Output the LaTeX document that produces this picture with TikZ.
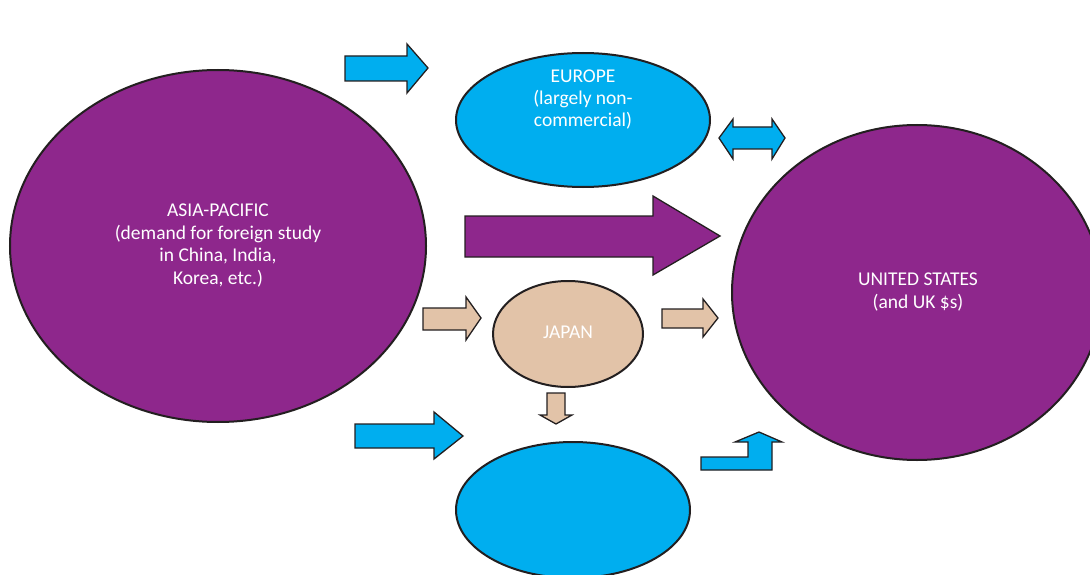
\documentclass[tikz,border=0pt]{standalone}
\usepackage{fontspec}
\setmainfont{Carlito}
\usetikzlibrary{shapes.geometric}
\definecolor{cyanb}{HTML}{00AEEF}
\definecolor{purp}{HTML}{8E278C}
\definecolor{tanb}{HTML}{E2C3A8}
\definecolor{ink}{HTML}{231F20}
\begin{document}
\begin{tikzpicture}[x=1pt,y=-1pt,
  region/.style={ellipse, draw=ink, line width=2pt, inner sep=0pt},
  blockarrow/.style={draw=ink, line width=1.3pt, line join=miter},
  lbl/.style={text=white, align=center, inner sep=0pt, font=\fontsize{19.5}{22.4}\selectfont}]
\path[use as bounding box] (0,0) rectangle (1090,575);
\clip (0,0) rectangle (1090,575);
% regions
\node[region, fill=purp, minimum width=416pt, minimum height=352pt] (asia) at (218,246) {};
\node[region, fill=cyanb, minimum width=254pt, minimum height=134pt] (europe) at (583,120) {};
\node[region, fill=purp, minimum width=370pt, minimum height=335pt] (us) at (917,292.5) {};
\node[region, fill=tanb, minimum width=150pt, minimum height=106pt] (japan) at (568,334) {};
\node[region, fill=cyanb, minimum width=234pt, minimum height=136pt] (other) at (573,510) {};
% labels
\node[lbl] (asiat) at (218,245.5) {ASIA-PACIFIC\\(demand for foreign study\\in China, India,\\Korea, etc.)};
\node[lbl] (europet) at (583,99.5) {EUROPE\\(largely non-\\commercial)};
\node[lbl] (ust) at (918,292) {UNITED STATES\\(and UK \$s)};
\node[lbl] (japant) at (568,332) {JAPAN};
% block arrows
\draw[blockarrow, fill=cyanb] (345,56) -- (407,56) -- (407,44) -- (428,68) -- (407,93) -- (407,81) -- (345,81) -- cycle;
\draw[blockarrow, fill=cyanb] (719,138) -- (733,119) -- (733,127) -- (772,127) -- (772,119) -- (785,138) -- (772,159) -- (772,149) -- (733,149) -- (733,159) -- cycle;
\draw[blockarrow, fill=purp] (465,216) -- (653,216) -- (653,196) -- (720,236) -- (653,275) -- (653,257) -- (465,257) -- cycle;
\draw[blockarrow, fill=tanb] (423,308) -- (466,308) -- (466,297) -- (481,318) -- (466,340) -- (466,330) -- (423,330) -- cycle;
\draw[blockarrow, fill=tanb] (662,309) -- (703,309) -- (703,299) -- (718,318) -- (703,337) -- (703,328) -- (662,328) -- cycle;
\draw[blockarrow, fill=tanb] (547,393) -- (565,393) -- (565,415) -- (572,415) -- (556,424) -- (540,415) -- (547,415) -- cycle;
\draw[blockarrow, fill=cyanb] (355,424) -- (434,424) -- (434,412) -- (463,436) -- (434,459) -- (434,448) -- (355,448) -- cycle;
\draw[blockarrow, fill=cyanb] (701,457) -- (748,457) -- (748,442) -- (735,442) -- (759,432) -- (782,442) -- (772,442) -- (772,470) -- (701,470) -- cycle;
\end{tikzpicture}
\end{document}
